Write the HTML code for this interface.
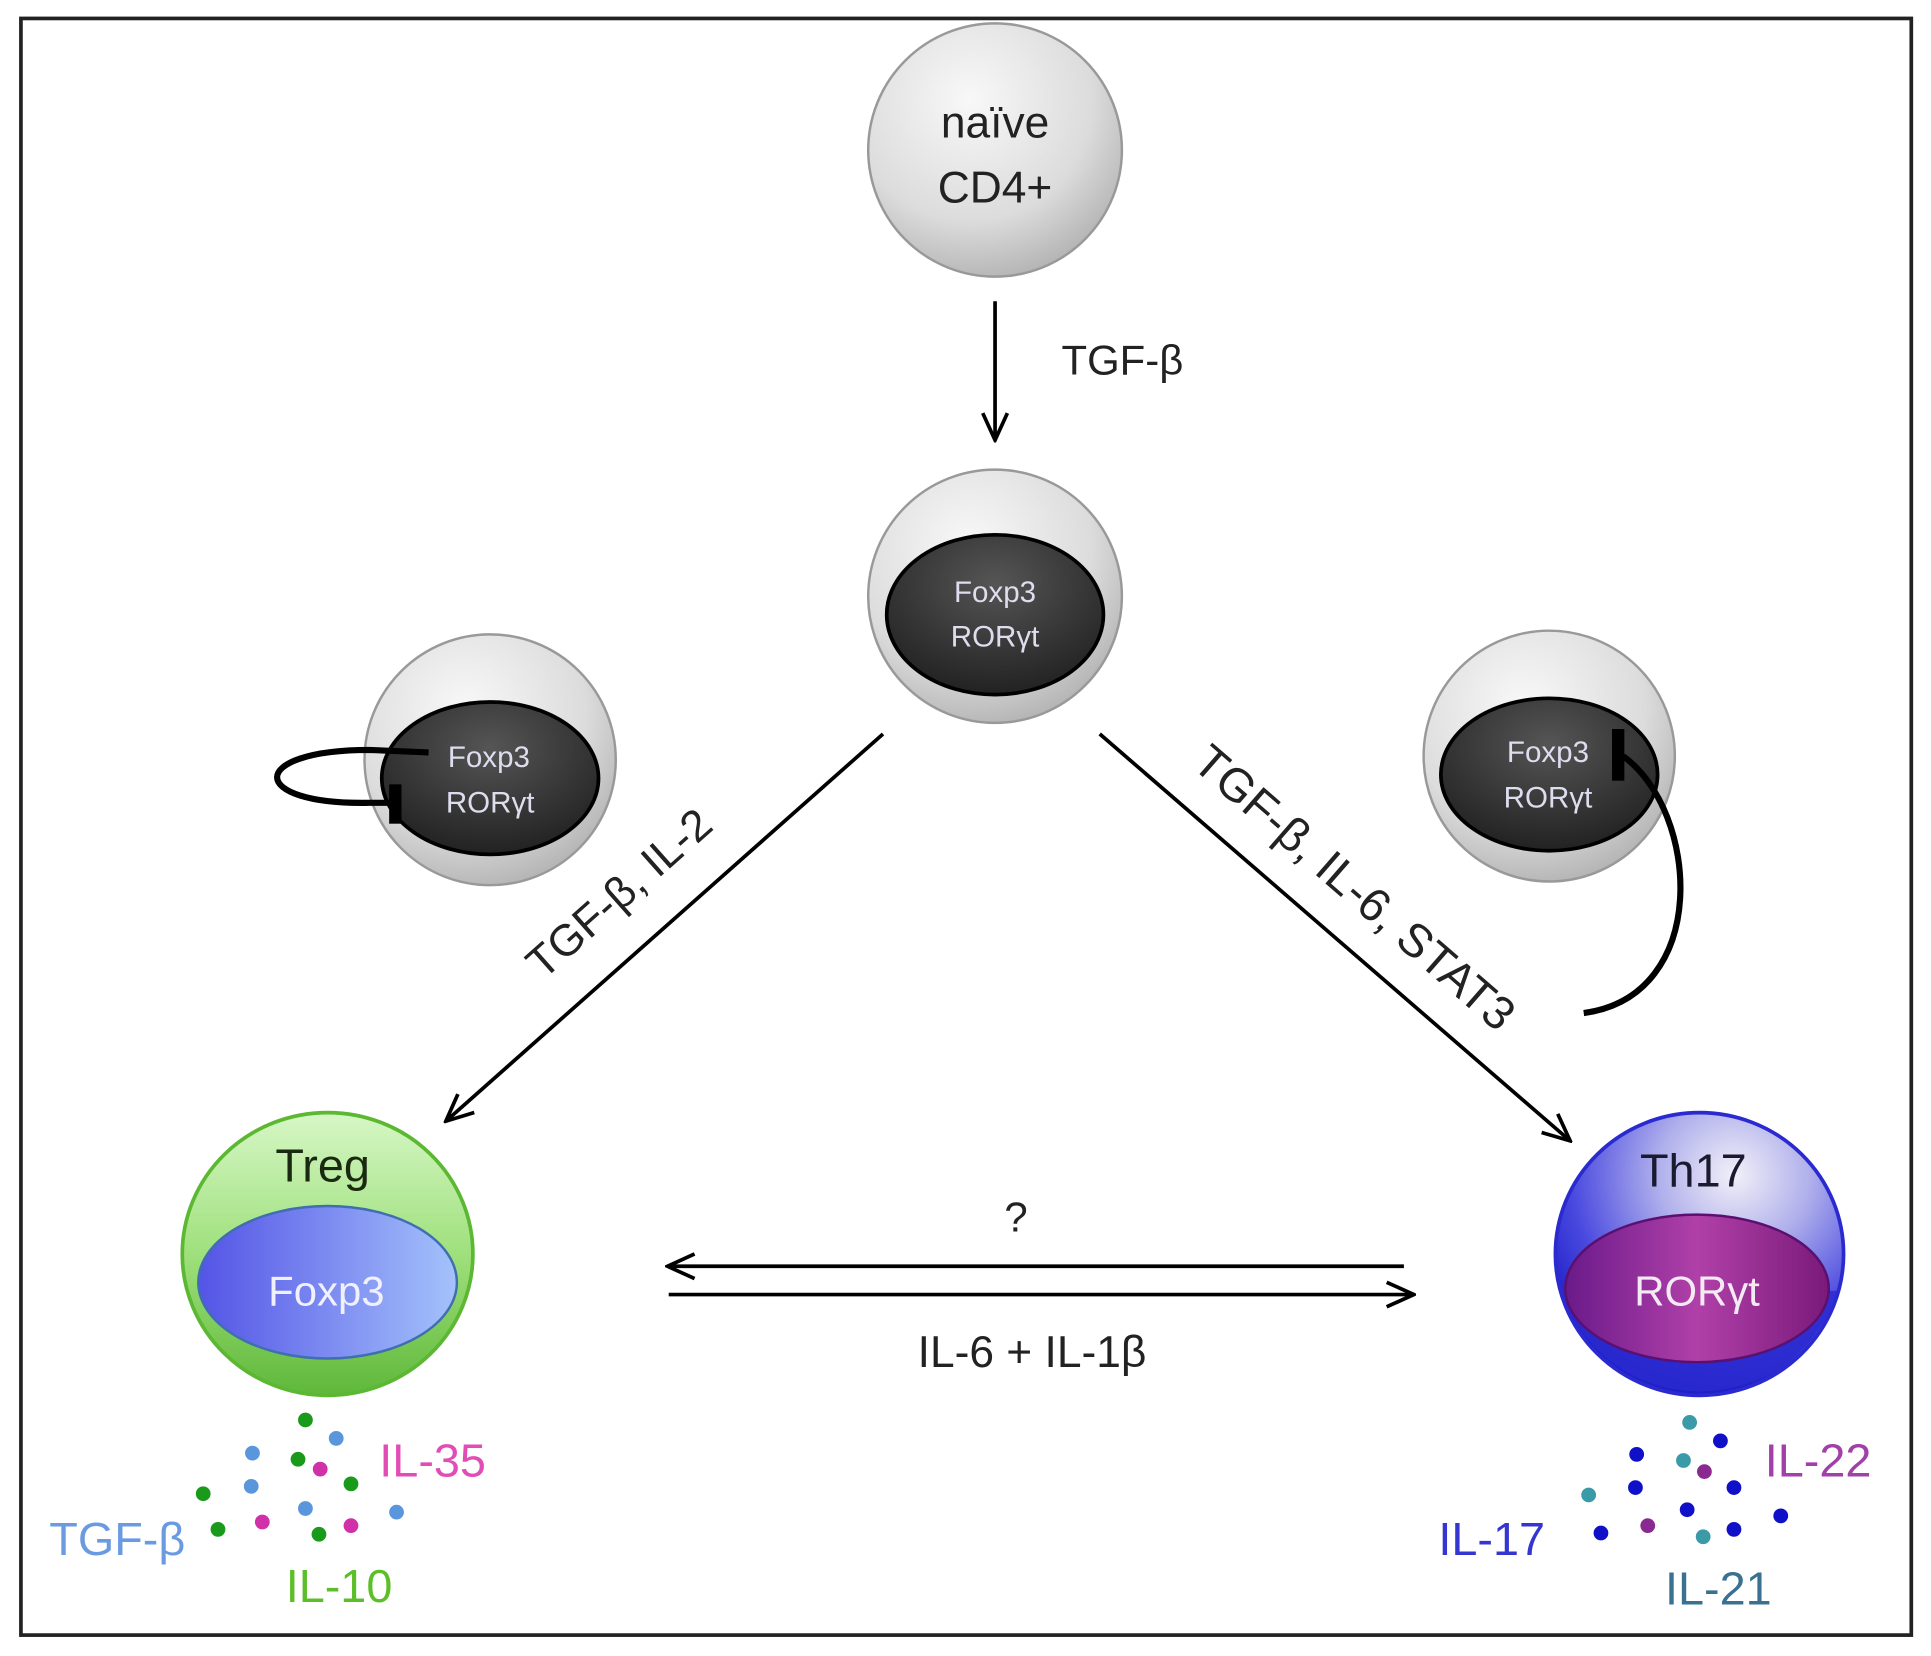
<!DOCTYPE html>
<html><head><meta charset="utf-8"><style>
html,body{margin:0;padding:0;background:#fff;}
svg{display:block;}
text{font-family:"Liberation Sans","DejaVu Sans",sans-serif;}
</style></head><body>
<svg width="1931" height="1656" viewBox="0 0 1568 1347" preserveAspectRatio="none" xmlns="http://www.w3.org/2000/svg">
<defs>
<radialGradient id="gray" cx="0.4" cy="0.3" r="0.8"><stop offset="0" stop-color="#f8f8f8"/><stop offset="0.6" stop-color="#dcdcdc"/><stop offset="1" stop-color="#a8a8a8"/></radialGradient>
<radialGradient id="dark" cx="0.5" cy="0.3" r="0.7"><stop offset="0" stop-color="#555"/><stop offset="1" stop-color="#222"/></radialGradient>
<linearGradient id="green" x1="0" y1="0" x2="0" y2="1"><stop offset="0" stop-color="#d6f7c6"/><stop offset="0.5" stop-color="#9fe07c"/><stop offset="1" stop-color="#5fb83a"/></linearGradient>
<linearGradient id="blueE" x1="0" y1="0" x2="1" y2="0"><stop offset="0" stop-color="#5454e6"/><stop offset="1" stop-color="#a4c2fb"/></linearGradient>
<radialGradient id="th" cx="0.62" cy="0.22" r="0.75"><stop offset="0" stop-color="#f2f0f8"/><stop offset="0.35" stop-color="#b0b0ec"/><stop offset="0.75" stop-color="#4a4ae0"/><stop offset="1" stop-color="#2020c8"/></radialGradient>
<linearGradient id="purp" x1="0" y1="0" x2="1" y2="0"><stop offset="0" stop-color="#6a1a8a"/><stop offset="0.5" stop-color="#b040a8"/><stop offset="1" stop-color="#7a1a7a"/></linearGradient>
<marker id="ah2" markerWidth="26" markerHeight="26" refX="24" refY="13" orient="auto" markerUnits="userSpaceOnUse"><path d="M2,3 L24,13 L2,23" fill="none" stroke="#000" stroke-width="3"/></marker>
</defs>
<rect x="17" y="15" width="1535" height="1315" fill="#fff" stroke="#222" stroke-width="3"/>

<circle cx="808" cy="122" r="103" fill="url(#gray)" stroke="#999" stroke-width="2"/>
<text x="808" y="100" font-size="36" text-anchor="middle" dominant-baseline="central" fill="#222">naïve</text>
<text x="808" y="153" font-size="36" text-anchor="middle" dominant-baseline="central" fill="#222">CD4+</text>
<line x1="808" y1="245" x2="808" y2="358" stroke="#000" stroke-width="3" marker-end="url(#ah2)"/>
<text x="862" y="293" font-size="34" dominant-baseline="central" fill="#222">TGF-β</text>

<circle cx="808" cy="485" r="103" fill="url(#gray)" stroke="#999" stroke-width="2"/>
<ellipse cx="808" cy="500" rx="88" ry="65" fill="url(#dark)" stroke="#000" stroke-width="3"/>
<text x="808" y="482" font-size="24" text-anchor="middle" dominant-baseline="central" fill="#dde">Foxp3</text>
<text x="808" y="518" font-size="24" text-anchor="middle" dominant-baseline="central" fill="#dde">RORγt</text>

<circle cx="398" cy="618" r="102" fill="url(#gray)" stroke="#999" stroke-width="2"/>
<ellipse cx="398" cy="633" rx="88" ry="62" fill="url(#dark)" stroke="#000" stroke-width="3"/>
<path d="M348,612 L300,610 C200,610 200,655 300,653 L318,653" fill="none" stroke="#000" stroke-width="5"/>
<rect x="316" y="638" width="10" height="32" fill="#000"/>
<text x="397" y="616" font-size="24" text-anchor="middle" dominant-baseline="central" fill="#dde">Foxp3</text>
<text x="398" y="653" font-size="24" text-anchor="middle" dominant-baseline="central" fill="#dde">RORγt</text>

<circle cx="1258" cy="615" r="102" fill="url(#gray)" stroke="#999" stroke-width="2"/>
<ellipse cx="1258" cy="630" rx="88" ry="62" fill="url(#dark)" stroke="#000" stroke-width="3"/>
<text x="1257" y="612" font-size="24" text-anchor="middle" dominant-baseline="central" fill="#dde">Foxp3</text>
<text x="1257" y="649" font-size="24" text-anchor="middle" dominant-baseline="central" fill="#dde">RORγt</text>
<path d="M1286,824 C1390,810 1380,660 1318,615" fill="none" stroke="#000" stroke-width="5"/>
<rect x="1309" y="593" width="10" height="42" fill="#000"/>

<line x1="717" y1="597" x2="362" y2="912" stroke="#000" stroke-width="3" marker-end="url(#ah2)"/>
<text transform="translate(503,727) rotate(-41.6)" font-size="36" text-anchor="middle" dominant-baseline="central" fill="#222">TGF-β, IL-2</text>
<line x1="893" y1="597" x2="1275" y2="928" stroke="#000" stroke-width="3" marker-end="url(#ah2)"/>
<text transform="translate(1100,722) rotate(41)" font-size="38" text-anchor="middle" dominant-baseline="central" fill="#222">TGF-β, IL-6, STAT3</text>

<ellipse cx="266" cy="1020" rx="118" ry="115" fill="url(#green)" stroke="#5cb832" stroke-width="3"/>
<ellipse cx="266" cy="1043" rx="105" ry="62" fill="url(#blueE)" stroke="#3f6fb0" stroke-width="2"/>
<text x="262" y="948" font-size="38" text-anchor="middle" dominant-baseline="central" fill="#1a2a10">Treg</text>
<text x="265" y="1050" font-size="34" text-anchor="middle" dominant-baseline="central" fill="#f0f0ff">Foxp3</text>

<ellipse cx="1380" cy="1020" rx="117" ry="115" fill="url(#th)" stroke="#2a2ad0" stroke-width="3"/>
<path d="M1268,1050 A117,115 0 0 0 1492,1050 Z" fill="#2a2ad0" opacity="0.85"/>
<ellipse cx="1378" cy="1048" rx="107" ry="60" fill="url(#purp)" stroke="#5a1070" stroke-width="2"/>
<text x="1375" y="952" font-size="38" text-anchor="middle" dominant-baseline="central" fill="#1a1a30">Th17</text>
<text x="1378" y="1050" font-size="34" text-anchor="middle" dominant-baseline="central" fill="#f4eaf4">RORγt</text>

<line x1="1140" y1="1030" x2="542" y2="1030" stroke="#000" stroke-width="3" marker-end="url(#ah2)"/>
<line x1="543" y1="1053" x2="1148" y2="1053" stroke="#000" stroke-width="3" marker-end="url(#ah2)"/>
<text x="825" y="990" font-size="34" text-anchor="middle" dominant-baseline="central" fill="#222">?</text>
<text x="838" y="1100" font-size="36" text-anchor="middle" dominant-baseline="central" fill="#222">IL-6 + IL-1β</text>

<g fill="#1a9a1a">
<circle cx="248" cy="1155" r="6"/><circle cx="242" cy="1187" r="6"/><circle cx="285" cy="1207" r="6"/><circle cx="165" cy="1215" r="6"/><circle cx="177" cy="1244" r="6"/><circle cx="259" cy="1248" r="6"/></g>
<g fill="#5a96dc">
<circle cx="205" cy="1182" r="6"/><circle cx="273" cy="1170" r="6"/><circle cx="204" cy="1209" r="6"/><circle cx="248" cy="1227" r="6"/><circle cx="322" cy="1230" r="6"/></g>
<g fill="#d030a8">
<circle cx="260" cy="1195" r="6"/><circle cx="213" cy="1238" r="6"/><circle cx="285" cy="1241" r="6"/></g>
<text x="308" y="1188" font-size="38" dominant-baseline="central" fill="#e24cb6">IL-35</text>
<text x="40" y="1252" font-size="38" dominant-baseline="central" fill="#6a9ae0">TGF-β</text>
<text x="232" y="1290" font-size="38" dominant-baseline="central" fill="#5cbf2a">IL-10</text>

<g fill="#3a9aa8">
<circle cx="1372" cy="1157" r="6"/><circle cx="1367" cy="1188" r="6"/><circle cx="1290" cy="1216" r="6"/><circle cx="1383" cy="1250" r="6"/></g>
<g fill="#1010c8">
<circle cx="1397" cy="1172" r="6"/><circle cx="1329" cy="1183" r="6"/><circle cx="1328" cy="1210" r="6"/><circle cx="1408" cy="1210" r="6"/><circle cx="1370" cy="1228" r="6"/><circle cx="1300" cy="1247" r="6"/><circle cx="1408" cy="1244" r="6"/><circle cx="1446" cy="1233" r="6"/></g>
<g fill="#8a2a90">
<circle cx="1384" cy="1197" r="6"/><circle cx="1338" cy="1241" r="6"/></g>
<text x="1433" y="1188" font-size="38" dominant-baseline="central" fill="#a040a8">IL-22</text>
<text x="1168" y="1252" font-size="38" dominant-baseline="central" fill="#3535d0">IL-17</text>
<text x="1352" y="1292" font-size="38" dominant-baseline="central" fill="#3a7090">IL-21</text>
</svg>
</body></html>
